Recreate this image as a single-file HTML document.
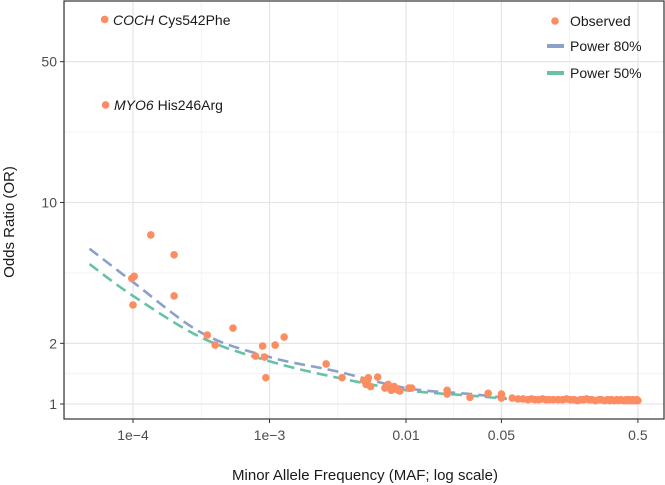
<!DOCTYPE html>
<html><head><meta charset="utf-8"><style>
body{margin:0;background:#fff;font-family:"Liberation Sans",sans-serif}
svg{display:block}
</style></head><body>
<svg id="chart" width="665" height="485" xmlns="http://www.w3.org/2000/svg">
<g id="grid"></g>
<g id="curves"></g>
<g id="points"></g>
<g id="axes"></g>
<g font-size="14" fill="#1a1a1a">
  <circle cx="555" cy="21" r="3.8" fill="#fc8d62"/>
  <text x="570" y="26">Observed</text>
  <line x1="547" y1="46" x2="564" y2="46" stroke="#8da0cb" stroke-width="4"/>
  <text x="570" y="51">Power 80%</text>
  <line x1="547" y1="73" x2="564" y2="73" stroke="#66c2a5" stroke-width="4"/>
  <text x="570" y="78">Power 50%</text>
</g>
<text x="113" y="25" font-size="14" fill="#1a1a1a"><tspan font-style="italic">COCH</tspan> Cys542Phe</text>
<text x="114" y="110" font-size="14" fill="#1a1a1a"><tspan font-style="italic">MYO6</tspan> His246Arg</text>
<text transform="translate(14,222) rotate(-90)" text-anchor="middle" font-size="15" fill="#1a1a1a">Odds Ratio (OR)</text>
<text x="365" y="480" text-anchor="middle" font-size="15" fill="#1a1a1a">Minor Allele Frequency (MAF; log scale)</text>
</svg>
<script>
const xTicks=[0.0001,0.001,0.01,0.05,0.5];
const xTickLabels=["1e\u22124","1e\u22123","0.01","0.05","0.5"];
const yTicks=[1,2,10,50];
const yTickLabels=["1","2","10","50"];
const obsMAF=[6.2e-5,6.3e-5,1.35e-4,2.0e-4,0.98e-4,1.02e-4,2.0e-4,1.0e-4,3.5e-4,5.4e-4,4.0e-4,7.9e-4,8.9e-4,9.2e-4,9.4e-4,1.1e-3,1.28e-3,2.6e-3,3.4e-3,4.9e-3,5.1e-3,5.3e-3,5.5e-3,5.2e-3,6.2e-3,7.0e-3,7.4e-3,7.8e-3,8.2e-3,8.6e-3,9.0e-3,0.0105,0.011,0.02,0.02,0.0294,0.04,0.05,0.05,0.06,
0.066,0.072,0.078,0.083,0.088,0.094,0.1,0.106,0.112,0.12,0.13,0.14,0.15,0.16,0.17,0.18,0.19,0.2,0.21,0.22,0.23,0.245,0.26,0.27,0.285,0.3,0.31,0.32,0.335,0.35,0.36,0.375,0.39,0.4,0.41,0.42,0.43,0.44,0.45,0.46,0.47,0.48,0.49,0.5];
const obsOR=[81,30.5,6.9,5.5,4.2,4.3,3.44,3.1,2.2,2.38,1.96,1.73,1.94,1.71,1.35,1.96,2.15,1.58,1.35,1.31,1.25,1.35,1.22,1.3,1.36,1.2,1.25,1.17,1.22,1.18,1.16,1.2,1.2,1.17,1.12,1.08,1.13,1.12,1.07,1.07,
1.06,1.06,1.05,1.06,1.05,1.05,1.06,1.05,1.05,1.05,1.05,1.05,1.06,1.05,1.05,1.04,1.05,1.05,1.06,1.05,1.05,1.04,1.05,1.05,1.04,1.05,1.04,1.05,1.04,1.05,1.04,1.05,1.04,1.04,1.05,1.04,1.05,1.04,1.04,1.05,1.04,1.04,1.05,1.04];
const curveMAF=[4.8e-5,1e-4,3.2e-4,1e-3,3e-3,0.01,0.03,0.055];
const power80=[5.9,4.03,2.25,1.71,1.46,1.2,1.12,1.07];
const power50=[4.95,3.44,2.13,1.63,1.36,1.17,1.1,1.06];
const X=v=>133+(Math.log10(v)+4)*136.5;
const Y=v=>404-Math.log10(v)*201.5;
const NS="http://www.w3.org/2000/svg";
function mk(p,t,a){const e=document.createElementNS(NS,t);for(const k in a)e.setAttribute(k,a[k]);p.appendChild(e);return e;}
const L=64,R=664,T=1,B=419;
const grid=document.getElementById('grid');
mk(grid,'rect',{x:L,y:T,width:R-L,height:B-T,fill:'#fff'});
// minor grid: midway between major ticks
const xp=xTicks.map(X);
const xm=[xp[0]-(xp[1]-xp[0])/2];for(let i=0;i<xp.length-1;i++)xm.push((xp[i]+xp[i+1])/2);
xm.forEach(x=>{if(x>L&&x<R){const g=mk(grid,'line',{x1:x,x2:x,y1:T,y2:B,stroke:'#f0f0f0','stroke-width':0.8});}});
const yp=yTicks.map(Y);
const ym=[];for(let i=0;i<yp.length-1;i++)ym.push((yp[i]+yp[i+1])/2);ym.push(yp[yp.length-1]-(yp[yp.length-2]-yp[yp.length-1])/2);
ym.forEach(y=>{if(y>T&&y<B){const g=mk(grid,'line',{x1:L,x2:R,y1:y,y2:y,stroke:'#f0f0f0','stroke-width':0.8});}});
xp.forEach(x=>{const g=mk(grid,'line',{x1:x,x2:x,y1:T,y2:B,stroke:'#e6e6e6','stroke-width':1.3});});
yp.forEach(y=>{const g=mk(grid,'line',{x1:L,x2:R,y1:y,y2:y,stroke:'#e6e6e6','stroke-width':1.3});});
const cv=document.getElementById('curves');
function curve(vals,col,name){
  let d='';
  // smooth via Catmull-Rom
  const p=curveMAF.map((m,i)=>[X(m),Y(vals[i])]);
  d='M'+p[0][0]+','+p[0][1];
  for(let i=0;i<p.length-1;i++){const p0=p[i-1]||p[i],p1=p[i],p2=p[i+1],p3=p[i+2]||p2;
    d+=' C'+(p1[0]+(p2[0]-p0[0])/6)+','+(p1[1]+(p2[1]-p0[1])/6)+' '+(p2[0]-(p3[0]-p1[0])/6)+','+(p2[1]-(p3[1]-p1[1])/6)+' '+p2[0]+','+p2[1];}
  const e=mk(cv,'path',{d:d,fill:'none',stroke:col,'stroke-width':2.6,'stroke-dasharray':'11,6'});
  
  
}
curve(power50,'#66c2a5','power-50-curve');
curve(power80,'#8da0cb','power-80-curve');
const pts=document.getElementById('points');
obsMAF.forEach((m,i)=>{const c=mk(pts,'circle',{cx:X(m),cy:Y(obsOR[i]),r:3.8,fill:'#fc8d62'});
  
  });
const ax=document.getElementById('axes');
mk(ax,'rect',{x:L,y:T,width:R-L,height:B-T,fill:'none',stroke:'#333','stroke-width':1.2});
xTicks.forEach((v,i)=>{mk(ax,'line',{x1:X(v),x2:X(v),y1:B,y2:B+4,stroke:'#333'});
  const t=mk(ax,'text',{x:X(v),y:B+21,'text-anchor':'middle','font-size':14,fill:'#4d4d4d'});t.textContent=xTickLabels[i];
  
  });
yTicks.forEach((v,i)=>{mk(ax,'line',{x1:L-4,x2:L,y1:Y(v),y2:Y(v),stroke:'#333'});
  const t=mk(ax,'text',{x:L-7,y:Y(v)+5,'text-anchor':'end','font-size':14,fill:'#4d4d4d'});t.textContent=yTickLabels[i];
  
  });
</script>
</body></html>
